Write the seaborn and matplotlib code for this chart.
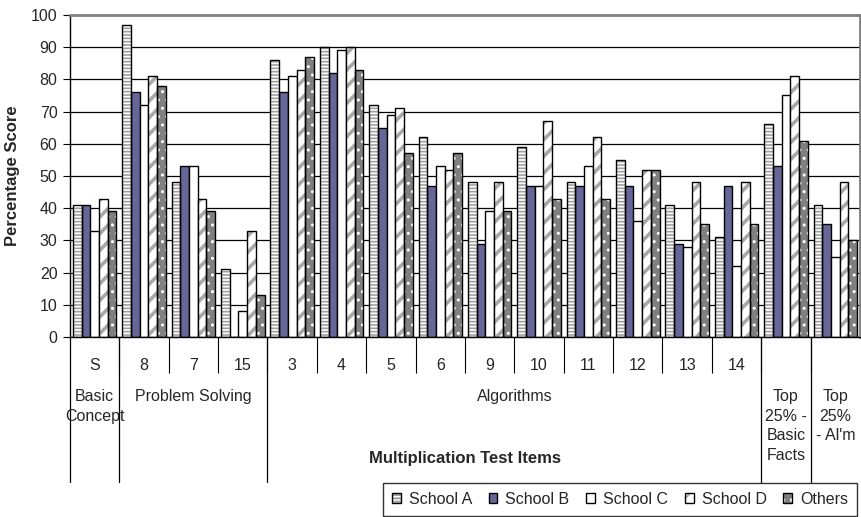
import numpy as np
import pandas as pd
import matplotlib
matplotlib.use("Agg")
import matplotlib.pyplot as plt
import matplotlib.transforms as mtransforms
from matplotlib.patches import Rectangle, Patch
from matplotlib.lines import Line2D
import seaborn as sns

# ---- data -------------------------------------------------------------
items = ["S", "8", "7", "15", "3", "4", "5", "6", "9", "10", "11", "12",
         "13", "14", "Top25 Basic Facts", "Top25 Alm"]
item_labels = ["S", "8", "7", "15", "3", "4", "5", "6", "9", "10", "11", "12",
               "13", "14", "", ""]
schools = ["School A", "School B", "School C", "School D", "Others"]

school_a = [41, 97, 48, 21, 86, 90, 72, 62, 48, 59, 48, 55, 41, 31, 66, 41]
school_b = [41, 76, 53, 0, 76, 82, 65, 47, 29, 47, 47, 47, 29, 47, 53, 35]
school_c = [33, 72, 53, 8, 81, 89, 69, 53, 39, 47, 53, 36, 28, 22, 75, 25]
school_d = [43, 81, 43, 33, 83, 90, 71, 52, 48, 67, 62, 52, 48, 48, 81, 48]
others = [39, 78, 39, 13, 87, 83, 57, 57, 39, 43, 43, 52, 35, 35, 61, 30]

# category groups: (label, first item index, last item index)
groups = [("Basic\nConcept", 0, 0),
          ("Problem Solving", 1, 3),
          ("Algorithms", 4, 13),
          ("Top\n25% -\nBasic\nFacts", 14, 14),
          ("Top\n25%\n- Al'm", 15, 15)]

df = pd.DataFrame({
    "item": items * 5,
    "score": school_a + school_b + school_c + school_d + others,
    "school": np.repeat(schools, len(items)),
})

# ---- styling ----------------------------------------------------------
sns.set_style("white")
plt.rcParams["font.family"] = ["Liberation Sans", "DejaVu Sans"]
plt.rcParams["hatch.linewidth"] = 1.4

FS = 11.5
W, H = 862, 517
fig = plt.figure(figsize=(W / 100, H / 100), dpi=100)
x0, x1, y0, y1 = 70, 860, 15, 337
ax = fig.add_axes([x0 / W, 1 - y1 / H, (x1 - x0) / W, (y1 - y0) / H])

# fill, hatch colour, hatch pattern, hatch width per series
styles = {
    "School A": dict(fc="white", hc="#a0a0a0", hatch="-----", hlw=1.2),
    "School B": dict(fc="#666699", hc=None, hatch=None, hlw=None),
    "School C": dict(fc="white", hc=None, hatch=None, hlw=None),
    "School D": dict(fc="white", hc="#a8a8a8", hatch="//", hlw=2.6),
    "Others": dict(fc="#808080", hc="white", hatch="..", hlw=1.0),
}

sns.barplot(data=df, x="item", y="score", hue="school", order=items,
            hue_order=schools, palette=[styles[s]["fc"] for s in schools],
            saturation=1, width=0.88, gap=0, edgecolor="black", linewidth=1,
            errorbar=None, legend=False, ax=ax)

legend_handles = []
for school, cont in zip(schools, ax.containers):
    st = styles[school]
    for bar in cont:
        if st["hatch"]:
            bar.set_edgecolor(st["hc"])
            bar.set_hatch(st["hatch"])
            bar.set_linewidth(0)
            if hasattr(bar, "set_hatch_linewidth"):
                bar.set_hatch_linewidth(st["hlw"])
            outline = Rectangle(bar.get_xy(), bar.get_width(), bar.get_height(),
                                fill=False, edgecolor="black", linewidth=1,
                                zorder=bar.get_zorder() + 0.1)
            ax.add_patch(outline)
    if st["hatch"]:
        base = Patch(facecolor=st["fc"], edgecolor=st["hc"], hatch=st["hatch"],
                     linewidth=0)
        if hasattr(base, "set_hatch_linewidth"):
            base.set_hatch_linewidth(min(st["hlw"], 1.2))
        top = Patch(facecolor="none", edgecolor="black", linewidth=1)
        legend_handles.append((base, top))
    else:
        legend_handles.append(Patch(facecolor=st["fc"], edgecolor="black",
                                    linewidth=1))

# ---- axes -------------------------------------------------------------
ax.set_xlim(-0.5, len(items) - 0.5)
ax.set_ylim(0, 100)
ax.set_yticks(np.arange(0, 101, 10))
ax.yaxis.grid(True, color="black", linewidth=0.9)
ax.set_axisbelow(True)
ax.tick_params(axis="y", which="major", direction="out", length=5, width=0.8,
               color="black", labelsize=FS, pad=4, left=True)

ax.set_xticks(range(len(items)))
ax.set_xticklabels(item_labels)
ax.tick_params(axis="x", which="major", length=0, labelsize=FS, pad=15)
ax.set_xticks(np.arange(0.5, len(items) - 0.5, 1), minor=True)
ax.tick_params(axis="x", which="minor", direction="out", length=26, width=0.8,
               color="black", bottom=True)

for side in ("left", "bottom"):
    ax.spines[side].set_color("black")
    ax.spines[side].set_linewidth(1)
for side in ("top", "right"):
    ax.spines[side].set_color("#808080")
    ax.spines[side].set_linewidth(2)

ax.set_xlabel("")
ax.set_ylabel("Percentage Score", fontsize=12, fontweight="bold")
ax.yaxis.set_label_coords(-(x0 - 20) / (x1 - x0), 0.5)

# ---- category group labels below the axis ----------------------------
trans = mtransforms.blended_transform_factory(ax.transData, fig.transFigure)
line_bottom = 1 - 482 / H
label_top = 1 - 389 / H
bounds = sorted({g[1] - 0.5 for g in groups})
for b in bounds:
    ax.add_line(Line2D([b, b], [1 - y1 / H, line_bottom], transform=trans,
                       color="black", linewidth=0.9, clip_on=False))
for text, i0, i1 in groups:
    ax.text((i0 + i1) / 2, label_top, text, transform=trans, ha="center",
            va="top", fontsize=FS, linespacing=1.38)

fig.text((x0 + x1) / 2 / W, 1 - 458 / H, "Multiplication Test Items",
         ha="center", va="center", fontsize=12, fontweight="bold")

# ---- legend -----------------------------------------------------------
leg = fig.legend(legend_handles, schools, loc="upper left",
                 bbox_to_anchor=(383 / W, 1 - 483 / H), ncol=5, fontsize=FS,
                 frameon=True, fancybox=False, handlelength=0.55,
                 handleheight=0.55, handletextpad=0.5, columnspacing=1.05,
                 borderpad=0.55, borderaxespad=0)
leg.get_frame().set_edgecolor("black")
leg.get_frame().set_linewidth(1)

fig.savefig("out.png", dpi=100)
